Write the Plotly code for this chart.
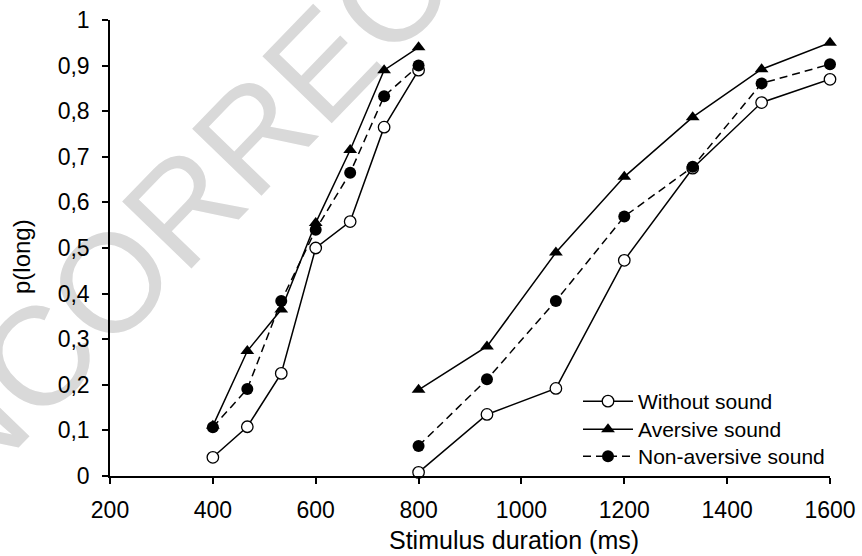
import plotly.graph_objects as go

# Stimulus durations (ms)
x_short = [400, 467, 533, 600, 667, 733, 800]
x_long = [800, 933, 1067, 1200, 1333, 1467, 1600]

# p(long) values, short range
without_short = [0.041, 0.108, 0.225, 0.500, 0.558, 0.765, 0.890]
aversive_short = [0.110, 0.274, 0.365, 0.555, 0.715, 0.890, 0.940]
nonaversive_short = [0.107, 0.191, 0.384, 0.540, 0.665, 0.833, 0.900]

# p(long) values, long range
without_long = [0.008, 0.135, 0.192, 0.473, 0.675, 0.819, 0.870]
aversive_long = [0.189, 0.284, 0.490, 0.656, 0.787, 0.892, 0.950]
nonaversive_long = [0.066, 0.212, 0.384, 0.569, 0.678, 0.861, 0.903]

series_names = ["Without sound", "Aversive sound", "Non-aversive sound"]
y_ticks = [0, 0.1, 0.2, 0.3, 0.4, 0.5, 0.6, 0.7, 0.8, 0.9, 1]
y_tick_labels = ["0", "0,1", "0,2", "0,3", "0,4", "0,5", "0,6", "0,7", "0,8", "0,9", "1"]
x_ticks = [200, 400, 600, 800, 1000, 1200, 1400, 1600]
x_title = "Stimulus duration (ms)"
y_title = "p(long)"
watermark = "UNCORRECTED"

FONT = "Liberation Sans, Arial, sans-serif"
L, R, T, B = 110, 32, 20, 80
W, H = 862, 556
PW, PH = W - L - R, H - T - B


def px_to_paper(px, py):
    return (px - L) / PW, (H - B - py) / PH


def joined(a, b):
    return a + [None] + b


xs = joined(x_short, x_long)

fig = go.Figure()
fig.add_trace(go.Scatter(
    x=xs, y=joined(without_short, without_long), name=series_names[0],
    mode="lines+markers", connectgaps=False, legend="legend",
    line=dict(color="black", width=1.5),
    marker=dict(symbol="circle", size=11.5, color="white", line=dict(color="black", width=1.3)),
))
fig.add_trace(go.Scatter(
    x=xs, y=joined(aversive_short, aversive_long), name=series_names[1],
    mode="lines+markers", connectgaps=False, legend="legend2",
    line=dict(color="black", width=1.5),
    marker=dict(symbol="triangle-up", size=12, color="black", line=dict(color="black", width=0)),
))
fig.add_trace(go.Scatter(
    x=xs, y=joined(nonaversive_short, nonaversive_long), name=series_names[2],
    mode="lines+markers", connectgaps=False, legend="legend3",
    line=dict(color="black", width=1.5, dash="8px,5px"),
    marker=dict(symbol="circle", size=12, color="black", line=dict(color="black", width=0)),
))

# Watermark text drawn below the data
cx, cy = px_to_paper(231, 139)
fig.add_shape(
    type="rect", xref="paper", yref="paper", layer="below",
    x0=cx - 0.01, x1=cx + 0.01, y0=cy - 0.01, y1=cy + 0.01,
    line=dict(width=0), fillcolor="rgba(0,0,0,0)",
    label=dict(text=watermark, textangle=-46, textposition="middle center",
               font=dict(family=FONT, size=140, color="#d9d9d9")),
)

# Axis titles
tx, ty = px_to_paper(514, 540)
fig.add_annotation(text=x_title, xref="paper", yref="paper", x=tx, y=ty,
                   showarrow=False, xanchor="center", yanchor="middle",
                   font=dict(family=FONT, size=25, color="black"))
ax_, ay_ = px_to_paper(21, 257)
fig.add_annotation(text=y_title, xref="paper", yref="paper", x=ax_, y=ay_,
                   showarrow=False, xanchor="center", yanchor="middle", textangle=-90,
                   font=dict(family=FONT, size=24, color="black"))


def legend_at(top_px):
    lx, ly = px_to_paper(578, top_px)
    return dict(x=lx, y=ly, xanchor="left", yanchor="top",
                bgcolor="rgba(0,0,0,0)", font=dict(family=FONT, size=21, color="black"),
                itemwidth=50, tracegroupgap=0)


fig.update_layout(
    width=W, height=H,
    margin=dict(l=L, r=R, t=T, b=B, autoexpand=False),
    paper_bgcolor="white", plot_bgcolor="white",
    font=dict(family=FONT, color="black"),
    showlegend=True,
    legend=legend_at(381),
    legend2=legend_at(409),
    legend3=legend_at(436),
    xaxis=dict(
        range=[200, 1600], tickvals=x_ticks, ticktext=[str(v) for v in x_ticks],
        showgrid=False, zeroline=False, showline=True, linecolor="black", linewidth=1.5,
        ticks="outside", ticklen=6, tickwidth=1.5, tickcolor="black", automargin=False,
        ticklabelstandoff=7,
        tickfont=dict(family=FONT, size=23, color="black"),
    ),
    yaxis=dict(
        range=[0, 1], tickvals=y_ticks, ticktext=y_tick_labels,
        showgrid=False, zeroline=False, showline=True, linecolor="black", linewidth=1.5,
        ticks="outside", ticklen=6, tickwidth=1.5, tickcolor="black", automargin=False,
        ticklabelstandoff=8,
        tickfont=dict(family=FONT, size=23, color="black"),
    ),
)
for tr in fig.data:
    tr.cliponaxis = False

fig.write_html("out.html", config={"displayModeBar": False},
               post_script="document.body.style.margin='0px';")
